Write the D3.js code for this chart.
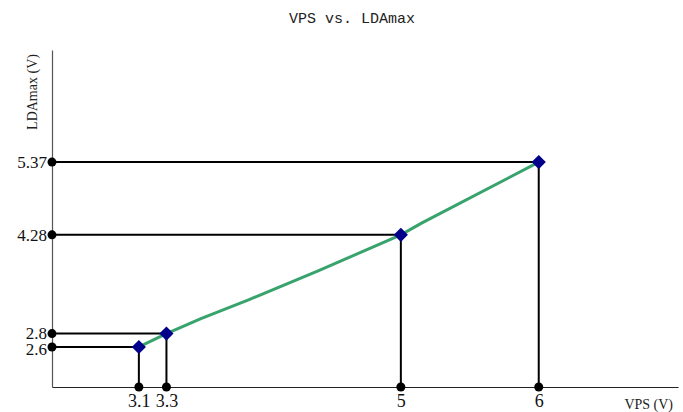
<!DOCTYPE html>
<html>
<head>
<meta charset="utf-8">
<script src="https://cdn.jsdelivr.net/npm/d3@7"></script>
<style>
 body { margin: 0; background: #fff; }
 svg { display: block; }
</style>
</head>
<body>
<svg id="chart" width="683" height="412"></svg>
<script>
// measured points (VPS, LDAmax)
var vpsValues = [3.1, 3.3, 5, 6];
var ldaValues = [2.6, 2.8, 4.28, 5.37];

// green trend curve
var curveVps = [3.1, 3.3, 3.55, 3.9, 4.4, 5, 5.15, 6];
var curveLda = [2.6, 2.8, 3.025, 3.31, 3.74, 4.28, 4.455, 5.37];

var xTickLabels = ['3.1', '3.3', '5', '6'];
var yTickLabels = ['2.6', '2.8', '4.28', '5.37'];

var svg = d3.select('#chart');

// scales
var x = d3.scaleLinear().domain([2.47, 7.01]).range([52, 678]);
var y = d3.scaleLinear().domain([2, 7.05]).range([387, 50]);

var tickFont = '"Liberation Serif", serif';

// title
svg.append('text')
 .attr('x', 352)
 .attr('y', 23)
 .attr('text-anchor', 'middle')
 .style('font-family', '"Liberation Mono", monospace')
 .style('font-size', '15px')
 .style('fill', '#222')
 .text('VPS vs. LDAmax');

// x axis
var xAxis = svg.append('g')
 .attr('transform', 'translate(0,' + y(2) + ')')
 .call(d3.axisBottom(x).tickValues(vpsValues)
  .tickFormat(function(d, i) { return xTickLabels[i]; })
  .tickSize(0).tickPadding(7));
xAxis.select('.domain').style('stroke', '#222').style('stroke-width', '1.2px');
xAxis.selectAll('text')
 .style('font-family', tickFont)
 .style('font-size', '18px')
 .style('fill', '#111');

// y axis
var yAxis = svg.append('g')
 .attr('transform', 'translate(' + x(2.47) + ',0)')
 .call(d3.axisLeft(y).tickValues(ldaValues)
  .tickFormat(function(d, i) { return yTickLabels[i]; })
  .tickSize(0).tickPadding(5));
yAxis.select('.domain').style('stroke', '#555').style('stroke-width', '1.2px');
yAxis.selectAll('text')
 .style('font-family', tickFont)
 .style('font-size', '17px')
 .style('fill', '#111');
// the two low labels sit very close: push them slightly apart
yAxis.selectAll('.tick text')
 .attr('dy', function(d) {
  if (d == 2.6) return '0.42em';
  if (d == 2.8) return '0.26em';
  return '0.32em';
 });

// axis labels
svg.append('text')
 .attr('x', 673)
 .attr('y', 409)
 .attr('text-anchor', 'end')
 .style('font-family', tickFont)
 .style('font-size', '14px')
 .style('fill', '#222')
 .text('VPS (V)');

svg.append('text')
 .attr('transform', 'translate(37,92) rotate(-90)')
 .attr('text-anchor', 'middle')
 .style('font-family', tickFont)
 .style('font-size', '14px')
 .style('fill', '#222')
 .text('LDAmax (V)');

// guide lines from each point to the axes
var points = vpsValues.map(function(v, i) { return {vps: v, lda: ldaValues[i]}; });
var guides = svg.append('g').attr('class', 'guides');

guides.selectAll('.hguide')
 .data(points).enter()
 .append('line')
 .attr('class', 'hguide')
 .attr('x1', x(2.47))
 .attr('x2', function(d) { return x(d.vps); })
 .attr('y1', function(d) { return y(d.lda); })
 .attr('y2', function(d) { return y(d.lda); })
 .style('stroke', '#000')
 .style('stroke-width', '2px');

guides.selectAll('.vguide')
 .data(points).enter()
 .append('line')
 .attr('class', 'vguide')
 .attr('x1', function(d) { return x(d.vps); })
 .attr('x2', function(d) { return x(d.vps); })
 .attr('y1', function(d) { return y(d.lda); })
 .attr('y2', y(2))
 .style('stroke', '#000')
 .style('stroke-width', '2px');

// green curve
var curveData = curveVps.map(function(v, i) { return [v, curveLda[i]]; });
svg.append('path')
 .datum(curveData)
 .attr('d', d3.line()
  .x(function(d) { return x(d[0]); })
  .y(function(d) { return y(d[1]); }))
 .style('fill', 'none')
 .style('stroke', '#38a36c')
 .style('stroke-width', '3px');

// black dots on the axes
svg.selectAll('.ydot')
 .data(points).enter()
 .append('circle')
 .attr('class', 'ydot')
 .attr('cx', x(2.47))
 .attr('cy', function(d) { return y(d.lda); })
 .attr('r', 4.5)
 .style('fill', '#000');

svg.selectAll('.xdot')
 .data(points).enter()
 .append('circle')
 .attr('class', 'xdot')
 .attr('cx', function(d) { return x(d.vps); })
 .attr('cy', y(2))
 .attr('r', 4.5)
 .style('fill', '#000');

// navy diamond markers
svg.selectAll('.marker')
 .data(points).enter()
 .append('path')
 .attr('class', 'marker')
 .attr('d', d3.symbol().type(d3.symbolSquare).size(100))
 .attr('transform', function(d) {
  return 'translate(' + x(d.vps) + ',' + y(d.lda) + ') rotate(45)';
 })
 .style('fill', '#00008b');
</script>
</body>
</html>
